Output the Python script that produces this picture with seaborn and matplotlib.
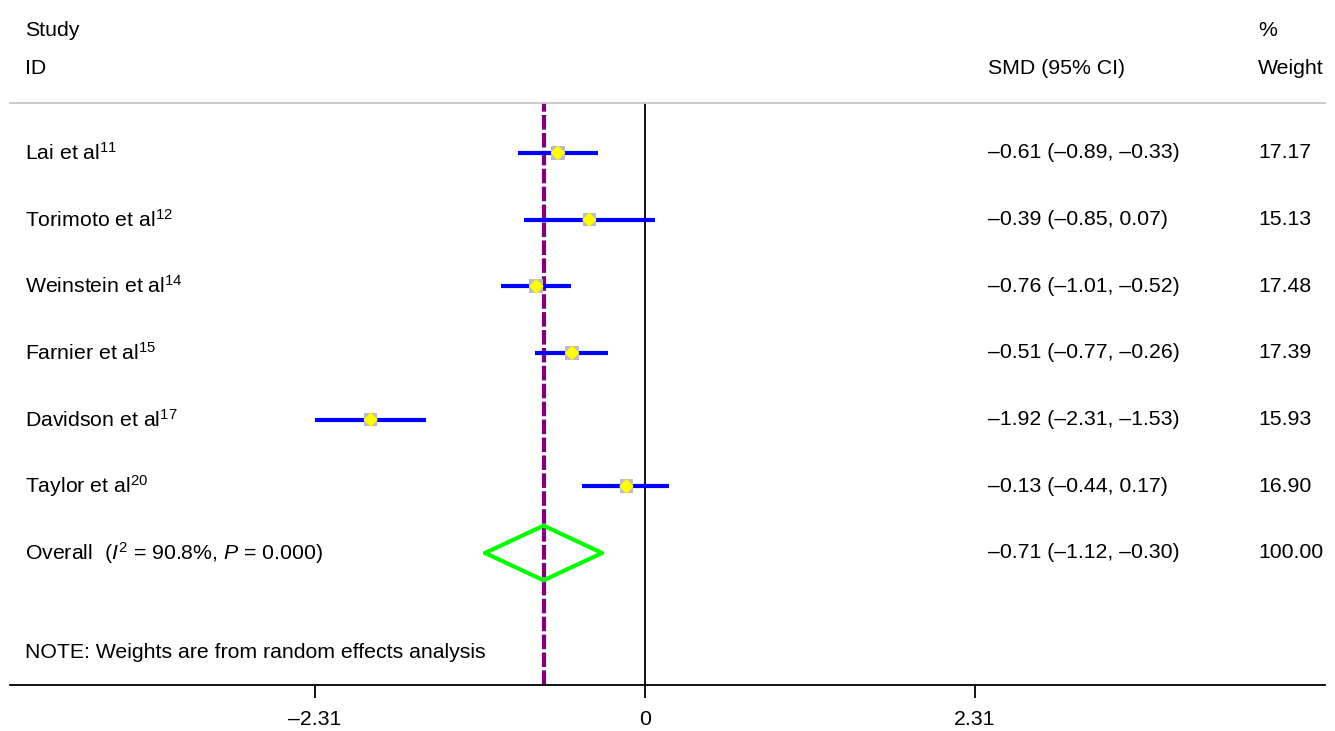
import numpy as np
import pandas as pd
import matplotlib
matplotlib.use("Agg")
import matplotlib.pyplot as plt
import seaborn as sns

# study rows
studies = ["Lai et al", "Torimoto et al", "Weinstein et al", "Farnier et al", "Davidson et al", "Taylor et al"]
refs = ["11", "12", "14", "15", "17", "20"]
smd = [-0.61, -0.39, -0.76, -0.51, -1.92, -0.13]
ci_lo = [-0.89, -0.85, -1.01, -0.77, -2.31, -0.44]
ci_hi = [-0.33, 0.07, -0.52, -0.26, -1.53, 0.17]
weight = [17.17, 15.13, 17.48, 17.39, 15.93, 16.90]

# pooled estimate
overall = -0.71
overall_lo = -1.12
overall_hi = -0.30
i2 = "90.8%"
p_val = "0.000"

xticks = [-2.31, 0, 2.31]
xticklabels = ["\u20132.31", "0", "2.31"]

sns.set_theme(style="white")
plt.rcParams['font.family'] = ['Liberation Sans', 'DejaVu Sans']
plt.rcParams['mathtext.fontset'] = 'custom'
plt.rcParams['mathtext.rm'] = 'Liberation Sans'
plt.rcParams['mathtext.it'] = 'Liberation Sans:italic'
plt.rcParams['text.color'] = 'black'
plt.rcParams['xtick.color'] = 'black'
plt.rcParams['xtick.labelcolor'] = 'black'
fs = 15.3

df = pd.DataFrame({"study": studies, "smd": smd, "lo": ci_lo, "hi": ci_hi, "w": weight})
df["row"] = np.arange(1, len(df) + 1)

fig = plt.figure(figsize=(13.35, 7.31), dpi=100)
ax = fig.add_axes([10 / 1335, 46 / 731, 1315 / 1335, 582 / 731])

# scale: 142.86 px per unit, axis spans 10..1325 px, zero at 645
ax.set_xlim((10 - 645) / 142.857, (1325 - 645) / 142.857)
ax.set_ylim(8.98, 0.25)

ax.axvline(0, color="black", lw=1.3, zorder=1)
ax.axvline(overall, color="#800080", lw=3, ls=(0, (3.5, 0.8)), zorder=2)

ax.hlines(df["row"], df["lo"], df["hi"], color="#0000ff", lw=3, zorder=3)
sns.scatterplot(data=df, x="smd", y="row", marker="s", s=df["w"] * 5.8,
                color="#bdbdbd", edgecolor="none", ax=ax, zorder=4, legend=False)
sns.scatterplot(data=df, x="smd", y="row", marker="D", s=55,
                color="#ffff00", edgecolor="none", ax=ax, zorder=5, legend=False)

orow = len(df) + 1
dh = 0.41
ax.plot([overall_lo, overall, overall_hi, overall, overall_lo],
        [orow, orow - dh, orow, orow + dh, orow], color="#00ff00", lw=3, zorder=4)

def fmt(v):
    return f"{v:.2f}".replace("-", "\u2013")

xl = (25 - 645) / 142.857
xc = (988 - 645) / 142.857
xw = (1258 - 645) / 142.857

ax.text(xl, -0.845, "Study", fontsize=fs, va="center", clip_on=False)
ax.text(xl, -0.275, "ID", fontsize=fs, va="center", clip_on=False)
ax.text(xw, -0.845, "%", fontsize=fs, va="center", clip_on=False)
ax.text(xw, -0.275, "Weight", fontsize=fs, va="center", clip_on=False)
ax.text(xc, -0.275, "SMD (95% CI)", fontsize=fs, va="center", clip_on=False)

for i, r in df.iterrows():
    ax.text(xl, r["row"], r["study"] + "$^{" + refs[i] + "}$", fontsize=fs, va="center")
    ax.text(xc, r["row"], f"{fmt(r['smd'])} ({fmt(r['lo'])}, {fmt(r['hi'])})", fontsize=fs, va="center")
    ax.text(xw, r["row"], f"{r['w']:.2f}", fontsize=fs, va="center")

ax.text(xl, orow, "Overall  ($I^2$ = " + i2 + ", $P$ = " + p_val + ")",
        fontsize=fs, va="center")
ax.text(xc, orow, f"{fmt(overall)} ({fmt(overall_lo)}, {fmt(overall_hi)})", fontsize=fs, va="center")
ax.text(xw, orow, "100.00", fontsize=fs, va="center")
ax.text(xl, 8.5, "NOTE: Weights are from random effects analysis", fontsize=fs, va="center")

ax.set_yticks([])
ax.set_xticks(xticks)
ax.set_xticklabels(xticklabels, fontsize=fs)
ax.tick_params(axis="x", bottom=True, length=9.5, width=1.3, pad=8.5, color="black")
for s in ["left", "right"]:
    ax.spines[s].set_visible(False)
ax.spines["bottom"].set_color("black")
ax.spines["bottom"].set_linewidth(1.3)
ax.spines["top"].set_color("#c8c8c8")
ax.spines["top"].set_linewidth(1.3)
ax.set_xlabel("")
ax.set_ylabel("")

fig.savefig("out.png", dpi=100)
